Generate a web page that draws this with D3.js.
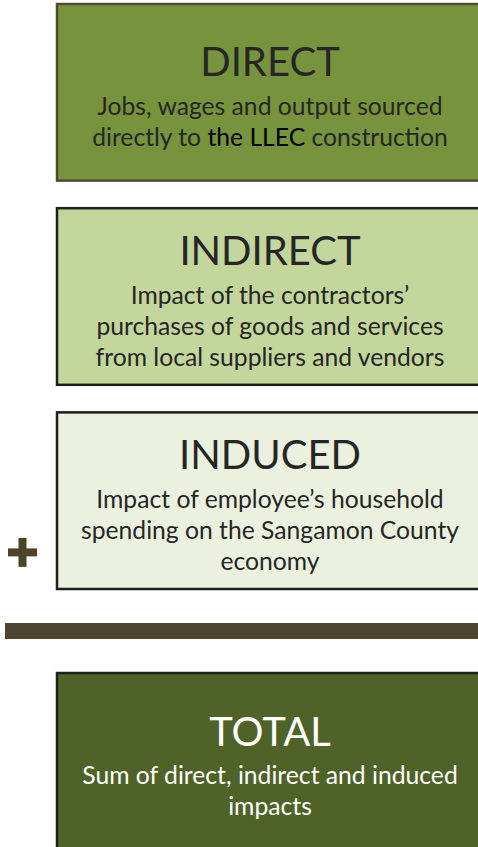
<!DOCTYPE html>
<html>
<head>
<meta charset="utf-8">
<script src="https://cdn.jsdelivr.net/npm/d3@7"></script>
<style>
  body { margin: 0; background: #fff; }
  svg { display: block; }
</style>
</head>
<body>
<svg width="478" height="847"></svg>
<script>
// the three parts that add up
var titles = ["DIRECT", "INDIRECT", "INDUCED"];
var descLines = [
	[["Jobs, wages and output sourced"], ["directly to ", "the LLEC", " construction"]],
	[["Impact of the contractors\u2019"], ["purchases of goods and services"], ["from local suppliers and vendors"]],
	[["Impact of employee\u2019s household"], ["spending on the Sangamon County"], ["economy"]]
];
var fills = ["#77933c", "#c3d69b", "#ebf1de"];
var borders = ["#4f4b33", "#1f1f1a", "#1f1f1a"];

// the result
var totalTitle = "TOTAL";
var totalLines = ["Sum of direct, indirect and induced", "impacts"];
var totalFill = "#4f6228";

var svg = d3.select("svg"),
	width = +svg.attr("width"),
	height = +svg.attr("height");

var boxLeft = 57, boxRight = 483,
	cx = (boxLeft + boxRight) / 2,
	font = "Lato, 'Noto Sans', sans-serif",
	ink = "#262626",
	titleSize = "40px", subSize = "24.7px",
	gap = 39, lineH = 31;

var y = d3.scaleBand()
	.domain(titles)
	.range([4, 589])
	.paddingInner(0.135)
	.paddingOuter(0);

var rows = svg.selectAll(".part")
	.data(titles)
	.enter().append("g")
	.attr("class", "part")
	.attr("transform", function(d) { return "translate(0," + y(d) + ")"; });

rows.append("rect")
	.attr("x", boxLeft)
	.attr("y", 0)
	.attr("width", boxRight - boxLeft)
	.attr("height", y.bandwidth())
	.attr("fill", function(d, i) { return fills[i]; })
	.attr("stroke", function(d, i) { return borders[i]; })
	.attr("stroke-width", 2.5);

// title + description block, centred in the box
rows.each(function(d, i) {
	var g = d3.select(this),
		lines = descLines[i],
		base = y.bandwidth() / 2 + 3 - (7 + (lines.length - 1) * lineH) / 2;

	g.append("text")
		.attr("x", cx)
		.attr("y", base)
		.attr("text-anchor", "middle")
		.style("font-family", font)
		.style("font-size", titleSize)
		.attr("fill", ink)
		.text(d);

	lines.forEach(function(parts, j) {
		var t = g.append("text")
			.attr("x", cx)
			.attr("y", base + gap + j * lineH)
			.attr("text-anchor", "middle")
			.style("font-family", font)
			.style("font-size", subSize)
			.attr("fill", ink);
		parts.forEach(function(p, k) {
			t.append("tspan")
				.attr("fill", k == 1 ? "#000" : ink)
				.text(p);
		});
	});
});

// plus sign next to the last part
var plus = svg.append("g")
	.attr("transform", "translate(22.5," + (y(titles[2]) + 140) + ")")
	.attr("fill", "#4a4529");
plus.append("rect").attr("x", -14.5).attr("y", -4).attr("width", 29).attr("height", 8);
plus.append("rect").attr("x", -4).attr("y", -14.5).attr("width", 8).attr("height", 29);

// sum bar
svg.append("rect")
	.attr("x", 5)
	.attr("y", 623)
	.attr("width", width)
	.attr("height", 16)
	.attr("fill", "#4d4530");

// total box, runs off the bottom
var total = svg.append("g")
	.attr("transform", "translate(0,673)");

total.append("rect")
	.attr("x", boxLeft)
	.attr("y", 0)
	.attr("width", boxRight - boxLeft)
	.attr("height", height)
	.attr("fill", totalFill)
	.attr("stroke", "#1f1f1a")
	.attr("stroke-width", 2.5);

total.append("text")
	.attr("x", cx)
	.attr("y", 73)
	.attr("text-anchor", "middle")
	.style("font-family", font)
	.style("font-size", titleSize)
	.attr("fill", "#fff")
	.text(totalTitle);

total.selectAll(".sub")
	.data(totalLines)
	.enter().append("text")
	.attr("class", "sub")
	.attr("x", cx)
	.attr("y", function(d, i) { return 73 + 38 + i * lineH; })
	.attr("text-anchor", "middle")
	.style("font-family", font)
	.style("font-size", subSize)
	.attr("fill", "#fff")
	.text(function(d) { return d; });
</script>
</body>
</html>
